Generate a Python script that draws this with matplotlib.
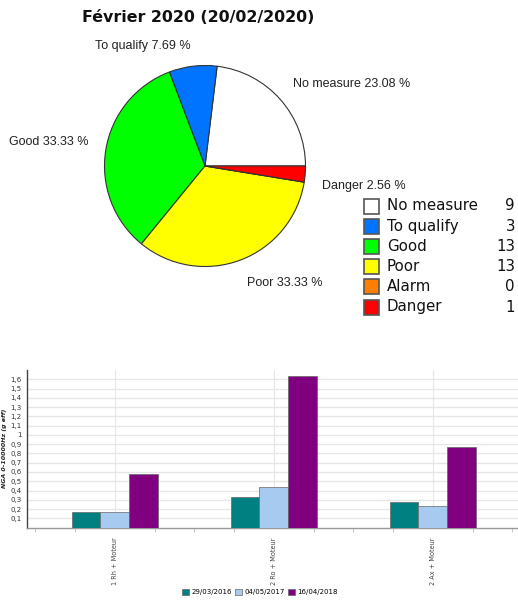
import matplotlib
matplotlib.use("Agg")
import matplotlib.pyplot as plt
from matplotlib.patches import Rectangle
import matplotlib.transforms as mtransforms
import numpy as np

# ---- Pie data ----
pie_title = "Février 2020 (20/02/2020)"
pie_categories = ["No measure", "To qualify", "Good", "Poor", "Alarm", "Danger"]
pie_counts = [9, 3, 13, 13, 0, 1]
pie_colors = ["#FFFFFF", "#0074FF", "#00FF00", "#FFFF00", "#FF8000", "#FF0000"]

# ---- Bar data ----
bar_categories = ["1 Rh + Moteur", "2 Ro + Moteur", "2 Ax + Moteur"]
series_names = ["29/03/2016", "04/05/2017", "16/04/2018"]
series_values = [
    [0.17, 0.327, 0.28],
    [0.165, 0.435, 0.233],
    [0.58, 1.64, 0.873],
]
series_colors = ["#008080", "#A6CAF0", "#800080"]
y_label = "NGA 0-10000Hz (g eff)"
y_ticks = [0.1, 0.2, 0.3, 0.4, 0.5, 0.6, 0.7, 0.8, 0.9, 1.0, 1.1, 1.2, 1.3, 1.4, 1.5, 1.6]

W, H = 518, 601
fig = plt.figure(figsize=(W / 100, H / 100), dpi=100)
fig.patch.set_facecolor("white")

def px_axes(x0, y0, x1, y1):
    return fig.add_axes([x0 / W, 1 - y1 / H, (x1 - x0) / W, (y1 - y0) / H])

# ---- Title ----
fig.text(198 / W, 1 - 17 / H, pie_title, ha="center", va="center",
         fontsize=11.4, fontweight="bold", family="DejaVu Sans", color="#111111")

# ---- Pie ----
cx, cy, r = 205, 166, 101
axp = px_axes(cx - r, cy - r, cx + r, cy + r)
total = sum(pie_counts)
labels = [f"{c} {v / total * 100:.2f} %" if v > 0 else "" for c, v in zip(pie_categories, pie_counts)]
wedges, texts = axp.pie(pie_counts, colors=pie_colors, startangle=0, counterclock=True,
                        labels=labels, labeldistance=1.17,
                        wedgeprops=dict(edgecolor="#333333", linewidth=0.8),
                        textprops=dict(fontsize=9, family="Liberation Sans", color="#222222"))
# small vertical nudges of the label texts (in points) to mimic the reference placement
label_nudge_pt = [3, 2, 3.5, -5, 0, -7.5]
for t, dy in zip(texts, label_nudge_pt):
    t.set_transform(t.get_transform() + mtransforms.ScaledTranslation(0, dy / 72, fig.dpi_scale_trans))
axp.set_xlim(-1.005, 1.005)
axp.set_ylim(-1.005, 1.005)
axp.set_aspect("equal")
axp.axis("off")

# ---- Pie legend ----
leg_x_box = 364
leg_y0 = 206
leg_dy = 20.2
for i, (c, v, col) in enumerate(zip(pie_categories, pie_counts, pie_colors)):
    y = leg_y0 + i * leg_dy
    fig.patches.append(Rectangle(((leg_x_box) / W, 1 - (y + 7.5) / H), 15 / W, 15 / H,
                                 transform=fig.transFigure, facecolor=col,
                                 edgecolor="#555555", linewidth=1.2))
    fig.text(387 / W, 1 - y / H, c, ha="left", va="center", fontsize=10.8,
             family="DejaVu Sans", color="#111111")
    fig.text(515 / W, 1 - y / H, str(v), ha="right", va="center", fontsize=10.8,
             family="DejaVu Sans", color="#111111")

# ---- Bar chart ----
axb = px_axes(27, 370, 518, 527.6)
x = np.arange(len(bar_categories))
bw = 0.182
for k, (name, vals, col) in enumerate(zip(series_names, series_values, series_colors)):
    axb.bar(x + (k - 1) * bw, vals, width=bw, color=col, edgecolor="#666666",
            linewidth=0.5, label=name, zorder=3)
axb.set_xlim(-0.553, 2.535)
axb.set_ylim(0, 1.7)
axb.set_yticks(y_ticks)
axb.set_yticklabels([(f"{t:g}").replace(".", ",") for t in y_ticks], fontsize=5,
                    family="DejaVu Sans", color="#333333")
axb.yaxis.grid(True, color="#E6E6E6", linewidth=1, zorder=0)
axb.set_xticks(x)
axb.set_xticklabels(bar_categories, rotation=90, fontsize=4.7, family="DejaVu Sans",
                    color="#444444")
axb.xaxis.grid(True, color="#E6E6E6", linewidth=0.8, zorder=0)
axb.set_xticks(np.arange(-0.5, 2.6, 0.25), minor=True)
axb.tick_params(axis="x", which="major", length=0, pad=7)
axb.tick_params(axis="x", which="minor", length=3, color="#BBBBBB", width=0.6)
axb.tick_params(axis="y", length=0, pad=4)
for s in ["top", "right"]:
    axb.spines[s].set_visible(False)
axb.spines["left"].set_color("#444444")
axb.spines["left"].set_linewidth(1)
axb.spines["bottom"].set_color("#999999")
axb.spines["bottom"].set_linewidth(1)
axb.set_ylabel(y_label, fontsize=4.5, fontweight="bold", style="italic",
               family="DejaVu Sans", labelpad=6, color="#222222")
axb.yaxis.set_label_coords(-20 / (518 - 27), 0.5)

handles, leg_labels = axb.get_legend_handles_labels()
fig.legend(handles, leg_labels, loc="center", bbox_to_anchor=(260 / W, 1 - 592 / H),
           ncol=3, frameon=False, handlelength=1.0, handleheight=1.0, columnspacing=0.5,
           handletextpad=0.3, prop=dict(family="DejaVu Sans", size=5))

fig.savefig("out.png", dpi=100, facecolor="white")
